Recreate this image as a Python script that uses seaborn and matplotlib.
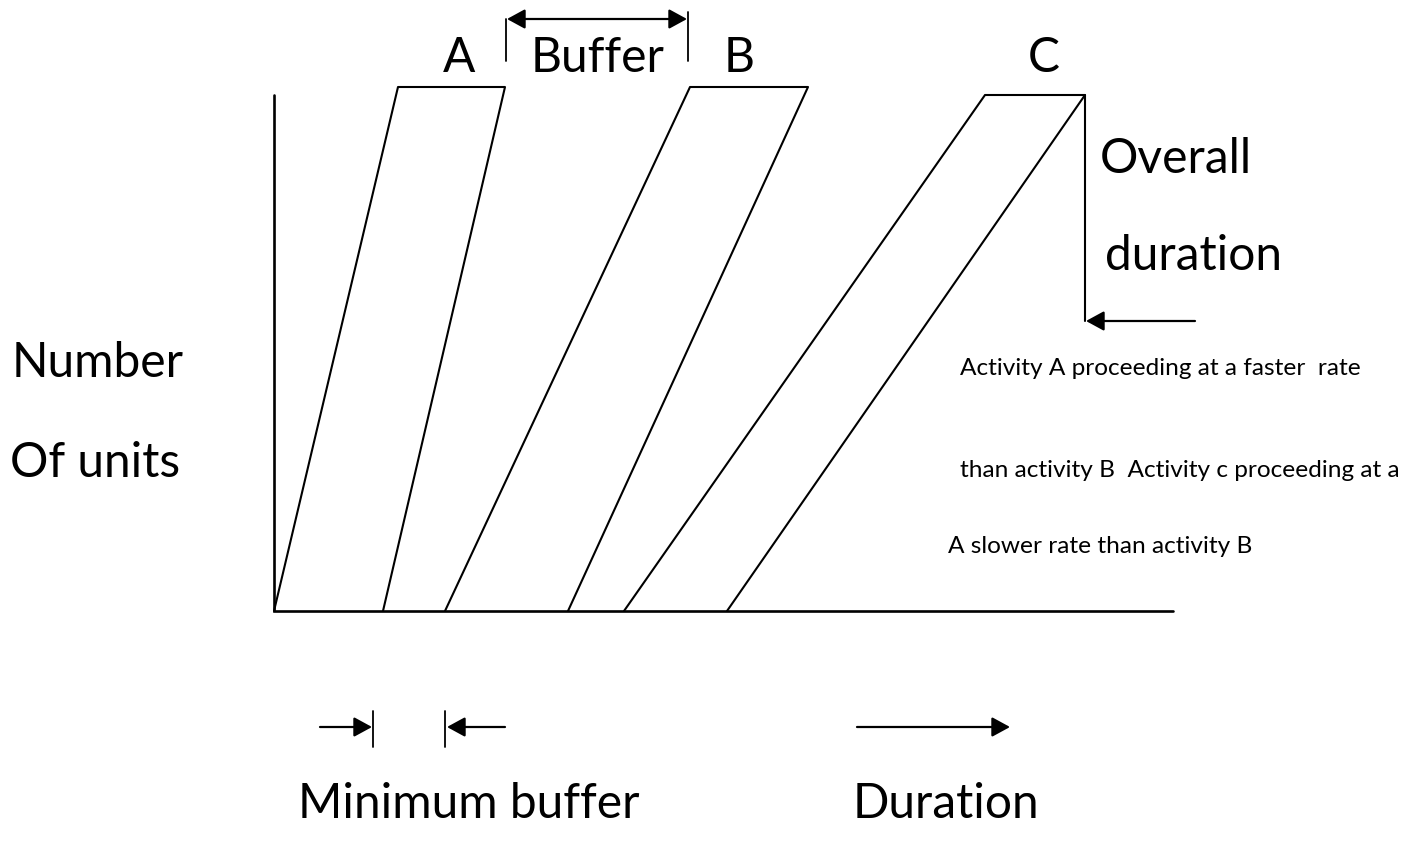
import matplotlib
matplotlib.use("Agg")
import matplotlib.pyplot as plt
import seaborn as sns
import pandas as pd

# =====================================
# Data (diagram coordinates, y grows downward)
# =====================================
activities = ["A", "B", "C"]
start_bottom = [274, 445, 624]
start_top = [398, 690, 985]
finish_top = [505, 808, 1085]
finish_bottom = [383, 568, 727]
top_level = [88, 88, 96]
base_level = 612

axis_x = [274, 274, 1173]
axis_y = [96, 612, 612]

big_labels = ["A", "Buffer", "B", "C"]
big_label_x = [443, 531, 724, 1028]

note_lines = [
    "Activity A proceeding at a faster  rate",
    "than activity B  Activity c proceeding at a",
    "A slower rate than activity B",
]
note_x = [960, 960, 948]
note_y = [375, 477, 553]

# build a long table of the parallelogram outlines
rows = []
for i, act in enumerate(activities):
    xs = [start_bottom[i], start_top[i], finish_top[i], finish_bottom[i]]
    ys = [base_level, top_level[i], top_level[i], base_level]
    for x, y in zip(xs, ys):
        rows.append({"activity": act, "x": x, "y": y})
df = pd.DataFrame(rows)

# =====================================
# Plot
# =====================================
sns.set_theme(style="white")
plt.rcParams["font.family"] = ["Lato", "DejaVu Sans"]
plt.rcParams["text.color"] = "black"

fig = plt.figure(figsize=(14.18, 8.53), dpi=100)
ax = fig.add_axes([0, 0, 1, 1])

sns.lineplot(data=df, x="x", y="y", units="activity", estimator=None,
             sort=False, color="black", linewidth=1.5, ax=ax, legend=False)

# axes of the diagram
ax.plot(axis_x, axis_y, color="black", linewidth=1.9, solid_joinstyle="miter")

# overall duration marker
ax.plot([finish_top[2], finish_top[2]], [top_level[2], 322], color="black", linewidth=1.5)


def arrow(x0, y0, x1, y1, style="-|>"):
    ax.annotate("", xy=(x1, y1), xytext=(x0, y0),
                arrowprops=dict(arrowstyle=style + ",head_length=0.55,head_width=0.3",
                                color="black", lw=1.6, mutation_scale=20,
                                shrinkA=0, shrinkB=0))


arrow(1195, 322, finish_top[2] + 1, 322)

# buffer arrow at top
ax.plot([506, 506], [20, 62], color="black", linewidth=1.3)
ax.plot([688, 688], [13, 62], color="black", linewidth=1.3)
arrow(507, 20, 687, 20, style="<|-|>")

# minimum buffer arrows
arrow(320, 728, 372, 728)
ax.plot([373, 373], [712, 748], color="black", linewidth=1.3)
arrow(505, 728, 447, 728)
ax.plot([445, 445], [712, 748], color="black", linewidth=1.3)

# duration arrow
arrow(857, 728, 1010, 728)

# =====================================
# Text
# =====================================
big = 34.5
for lab, x in zip(big_labels, big_label_x):
    ax.text(x, 72, lab, fontsize=big, va="baseline", ha="left", color="black")

ax.text(12, 377, "Number", fontsize=big, va="baseline", ha="left", color="black")
ax.text(10, 477, "Of units", fontsize=big, va="baseline", ha="left", color="black")
ax.text(1100, 173, "Overall", fontsize=big, va="baseline", ha="left", color="black")
ax.text(1105, 270, "duration", fontsize=big, va="baseline", ha="left", color="black")
ax.text(298, 818, "Minimum buffer", fontsize=big, va="baseline", ha="left", color="black")
ax.text(853, 818, "Duration", fontsize=big, va="baseline", ha="left", color="black")

for line, x, y in zip(note_lines, note_x, note_y):
    ax.text(x, y, line, fontsize=17.6, va="baseline", ha="left", color="black")

ax.set_xlim(0, 1418)
ax.set_ylim(853, 0)
ax.axis("off")

fig.savefig("out.png", dpi=100, facecolor="white")
